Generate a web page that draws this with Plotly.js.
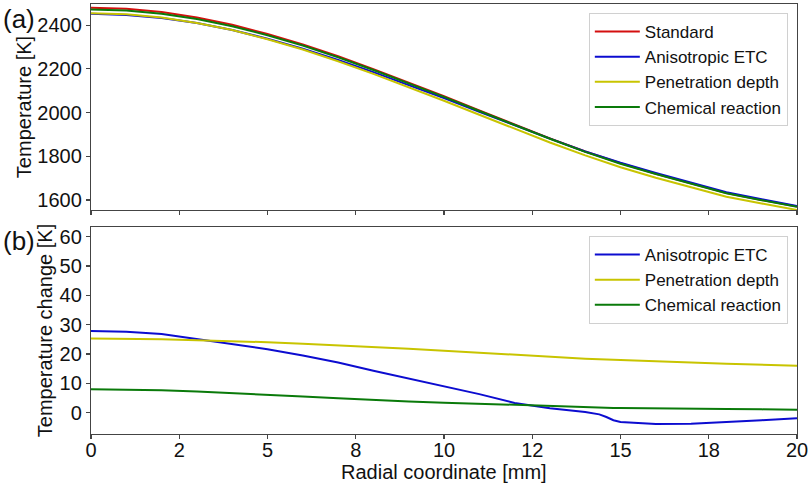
<!DOCTYPE html>
<html>
<head>
<meta charset="utf-8">
<script src="https://cdn.plot.ly/plotly-3.0.1.min.js"></script>
<style>html,body{margin:0;padding:0;background:#fff;}#chart{width:809px;height:487px;}</style>
</head>
<body>
<div id="chart"></div>
<script>
// Radial coordinate [mm]
const radius = [0,1,2,3,4,5,6,7,8,9,10,11,12,13,14,14.4,14.6,14.8,15,16,17,18,19,20];

// Panel (a): temperature [K]
const tStandard    = [2480,2475,2460,2435,2402,2360,2312,2258,2199,2138,2075,2010,1945,1882,1822,1800,1788,1777,1768,1720,1675,1632,1600,1570];
const tAnisotropic = [2452,2447,2433,2410,2378,2338,2292,2241,2185,2126,2066,2004,1942,1881,1822,1801,1790,1780,1771,1724,1679,1635,1603,1572];
const tPenetration = [2455,2450,2435,2410,2378,2336,2289,2235,2177,2116,2054,1990,1925,1863,1804,1782,1770,1759,1750,1702,1658,1615,1584,1554];
const tChemical    = [2472,2467,2452,2428,2395,2354,2307,2253,2195,2134,2072,2007,1942,1880,1820,1798,1786,1775,1766,1719,1674,1631,1599,1569];

// Panel (b): temperature change [K]
const dAnisotropic = [27.8,27.6,26.8,25.0,23.4,21.6,19.5,17.1,14.3,11.6,9.0,6.3,3.3,1.5,0.2,-0.6,-1.5,-2.6,-3.2,-3.9,-3.8,-3.3,-2.6,-1.9];
const dPenetration = [25.3,25.2,25.0,24.7,24.4,24.0,23.5,23.0,22.4,21.8,21.1,20.4,19.6,19.0,18.4,18.2,18.1,18.0,18.0,17.6,17.1,16.7,16.3,16.0];
const dChemical    = [8.0,7.9,7.6,7.2,6.7,6.1,5.5,4.9,4.3,3.8,3.4,3.0,2.5,2.1,1.8,1.7,1.7,1.6,1.6,1.4,1.3,1.2,1.1,1.0];

// Tick labels
const xTickVals = [0,2.5,5,7.5,10,12.5,15,17.5,20];
const xTickText = ['0','2','5','8','10','12','15','18','20'];
const yTopTicks = [1600,1800,2000,2200,2400];
const yBotTicks = [0,10,20,30,40,50,60];

const names = ['Standard','Anisotropic ETC','Penetration depth','Chemical reaction'];
const colors = {std:'#d40f0f', ani:'#0c0cd0', pen:'#c8c400', chem:'#0a7a0a'};
const LW = 2;

const traces = [
  {x:radius, y:tStandard, name:names[0], line:{color:colors.std,width:LW}, xaxis:'x', yaxis:'y', legend:'legend'},
  {x:radius, y:tAnisotropic, name:names[1], line:{color:colors.ani,width:LW}, xaxis:'x', yaxis:'y', legend:'legend'},
  {x:radius, y:tPenetration, name:names[2], line:{color:colors.pen,width:LW}, xaxis:'x', yaxis:'y', legend:'legend'},
  {x:radius, y:tChemical, name:names[3], line:{color:colors.chem,width:LW}, xaxis:'x', yaxis:'y', legend:'legend'},
  {x:radius, y:dAnisotropic, name:names[1], line:{color:colors.ani,width:LW}, xaxis:'x2', yaxis:'y2', legend:'legend2'},
  {x:radius, y:dPenetration, name:names[2], line:{color:colors.pen,width:LW}, xaxis:'x2', yaxis:'y2', legend:'legend2'},
  {x:radius, y:dChemical, name:names[3], line:{color:colors.chem,width:LW}, xaxis:'x2', yaxis:'y2', legend:'legend2'}
].map(t => Object.assign({type:'scatter', mode:'lines'}, t));

const font = 'Liberation Sans, Arial, sans-serif';
const axisCommon = {
  showline:true, mirror:true, linecolor:'#444', linewidth:1.2,
  ticks:'outside', ticklen:4, tickcolor:'#444', tickwidth:1.2,
  showgrid:false, zeroline:false,
  tickfont:{family:font, size:20, color:'#111'}
};

const layout = {
  width:809, height:487,
  margin:{l:91, r:12, t:4, b:53},
  paper_bgcolor:'#fff', plot_bgcolor:'#fff',
  font:{family:font, color:'#111'},
  showlegend:true,
  xaxis: Object.assign({}, axisCommon, {domain:[0,1], anchor:'y', range:[0,20], tickvals:xTickVals, showticklabels:false, matches:'x2'}),
  yaxis: Object.assign({}, axisCommon, {domain:[0.5209,1], anchor:'x', range:[1554,2497], tickvals:yTopTicks,
          title:{text:'Temperature [K]', font:{family:font, size:20, color:'#111'}, standoff:0}}),
  xaxis2: Object.assign({}, axisCommon, {domain:[0,1], anchor:'y2', range:[0,20], tickvals:xTickVals, ticktext:xTickText,
          ticklabelstandoff:-6}),
  yaxis2: Object.assign({}, axisCommon, {domain:[0,0.4814], anchor:'x2', range:[-7.3,63.3], tickvals:yBotTicks,
          title:{text:'Temperature change [K]', font:{family:font, size:20, color:'#111'}, standoff:1}}),
  legend:{x:0.987, y:0.979, xanchor:'right', yanchor:'top', bgcolor:'#fff', bordercolor:'#d0d0d0', borderwidth:1,
          itemwidth:45, font:{family:font, size:17, color:'#111'}},
  legend2:{x:0.987, y:0.4605, xanchor:'right', yanchor:'top', bgcolor:'#fff', bordercolor:'#d0d0d0', borderwidth:1,
          itemwidth:45, font:{family:font, size:17, color:'#111'}},
  annotations:[
    {text:'Radial coordinate [mm]', xref:'paper', yref:'paper', x:0.5, y:-0.0884, xanchor:'center', yanchor:'middle', showarrow:false,
     font:{family:font, size:20, color:'#111'}},
    {text:'(a)', xref:'paper', yref:'paper', x:-0.128, y:1.004, xanchor:'left', yanchor:'top', showarrow:false,
     font:{family:font, size:26, color:'#111'}},
    {text:'(b)', xref:'paper', yref:'paper', x:-0.128, y:0.4873, xanchor:'left', yanchor:'top', showarrow:false,
     font:{family:font, size:26, color:'#111'}}
  ]
};

Plotly.newPlot('chart', traces, layout, {displayModeBar:false, staticPlot:true});
</script>
</body>
</html>
